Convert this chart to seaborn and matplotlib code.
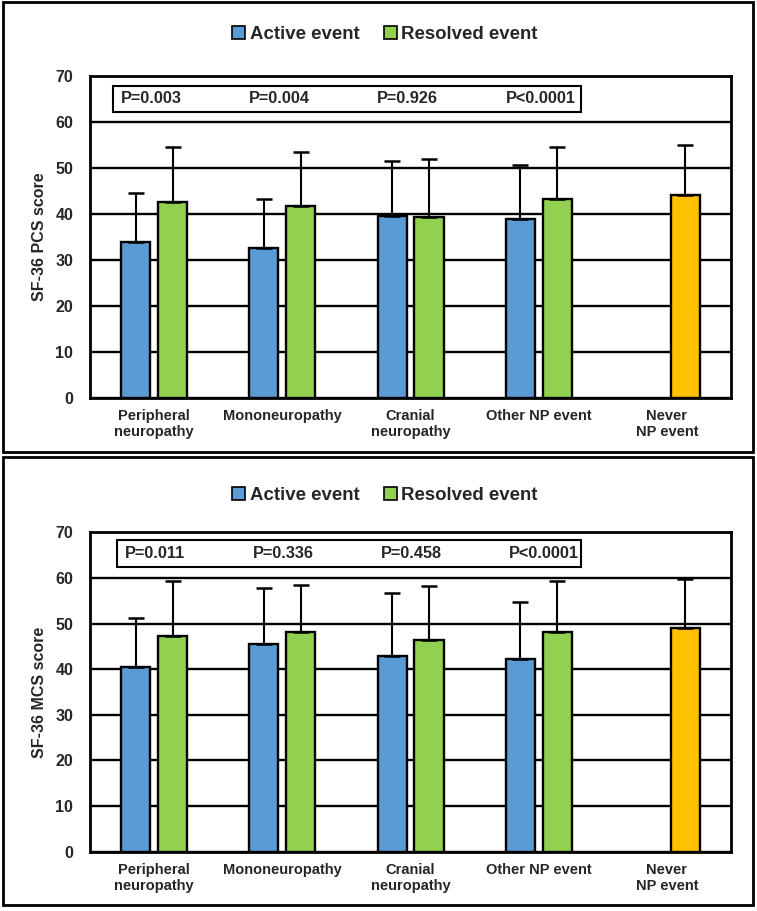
import matplotlib
matplotlib.use('Agg')
import matplotlib.pyplot as plt
from matplotlib.patches import Rectangle, Patch
import numpy as np
import pandas as pd
import seaborn as sns

categories = ['Peripheral\nneuropathy', 'Mononeuropathy', 'Cranial\nneuropathy',
              'Other NP event', 'Never\nNP event']
series = ['Active event', 'Resolved event']

# SF-36 PCS (the "Never" group sits in the resolved slot)
pcs_active = [33.8, 32.5, 39.6, 38.9]
pcs_active_sd = [10.6, 10.8, 11.8, 11.7]
pcs_resolved = [42.6, 41.7, 39.3, 43.2, 44.1]
pcs_resolved_sd = [11.8, 11.7, 12.6, 11.3, 10.9]
pcs_pvalues = ['P=0.003', 'P=0.004', 'P=0.926', 'P<0.0001']

# SF-36 MCS
mcs_active = [40.5, 45.5, 42.8, 42.2]
mcs_active_sd = [10.8, 12.2, 13.8, 12.5]
mcs_resolved = [47.2, 48.2, 46.4, 48.1, 49.0]
mcs_resolved_sd = [12.1, 10.2, 11.8, 11.2, 10.7]
mcs_pvalues = ['P=0.011', 'P=0.336', 'P=0.458', 'P<0.0001']

BLUE = '#5B9BD5'
GREEN = '#92D050'
YELLOW = '#FFC000'

sns.set_style('white')
plt.rcParams['font.family'] = ['Liberation Sans', 'DejaVu Sans']
plt.rcParams['font.weight'] = 'bold'


def draw_panel(ax, active, active_sd, resolved, resolved_sd, pvalues, ylabel,
               p_left, box):
    df = pd.DataFrame({
        'category': categories[:len(active)] + categories[:len(resolved)],
        'event': [series[0]] * len(active) + [series[1]] * len(resolved),
        'score': active + resolved,
        'sd': active_sd + resolved_sd,
    })
    sns.barplot(data=df, x='category', y='score', hue='event', order=categories,
                hue_order=series, palette=[BLUE, GREEN], saturation=1,
                width=0.575, gap=0.21, edgecolor='black', linewidth=1.7,
                errorbar=None, legend=False, ax=ax, zorder=2)

    # upper-only error bars, matched to each bar by its position
    for cont, ev in zip(ax.containers, series):
        sub = df[df['event'] == ev].set_index('category')
        xs, ys, sds = [], [], []
        for p in cont.patches:
            xc = p.get_x() + p.get_width() / 2
            cat = categories[int(round(xc))]
            if cat not in sub.index:
                continue
            xs.append(xc)
            ys.append(p.get_height())
            sds.append(sub.loc[cat, 'sd'])
            if cat == categories[-1]:
                p.set_facecolor(YELLOW)
        ax.errorbar(xs, ys, yerr=[np.zeros(len(sds)), sds], fmt='none',
                    ecolor='black', elinewidth=1.5, capsize=6, capthick=1.8,
                    zorder=3)

    ax.set_xlim(-0.5, 4.5)
    ax.set_ylim(0, 70)
    ax.set_yticks(range(0, 71, 10))
    ax.yaxis.grid(True, color='black', linewidth=1.7)
    ax.set_axisbelow(True)
    for s in ax.spines.values():
        s.set_visible(True)
        s.set_color('black')
        s.set_linewidth(2)
    ax.tick_params(axis='y', length=0, pad=12, labelsize=11.5)
    ax.tick_params(axis='x', length=0, pad=8, labelsize=10.5)
    for lab in ax.get_xticklabels() + ax.get_yticklabels():
        lab.set_fontweight('bold')
    ax.set_xlabel('')
    ax.set_ylabel(ylabel, fontsize=11.5, fontweight='bold', labelpad=6)

    # p-value box
    x0, x1, y0, y1 = box
    ax.add_patch(Rectangle((x0, y0), x1 - x0, y1 - y0, facecolor='white',
                           edgecolor='black', linewidth=1.5, zorder=4))
    for i, p in enumerate(pvalues):
        ax.text(i + p_left, (y0 + y1) / 2, p, ha='left', va='center',
                fontsize=11.7, fontweight='bold', zorder=5)


fig = plt.figure(figsize=(7.57, 9.11), dpi=100)
ax1 = fig.add_axes([0.1189, 0.5634, 0.8468, 0.3535])
ax2 = fig.add_axes([0.1189, 0.0651, 0.8468, 0.3506])

draw_panel(ax1, pcs_active, pcs_active_sd, pcs_resolved, pcs_resolved_sd,
           pcs_pvalues, 'SF-36 PCS score', -0.26, (-0.32, 3.33, 62.2, 67.8))
draw_panel(ax2, mcs_active, mcs_active_sd, mcs_resolved, mcs_resolved_sd,
           mcs_pvalues, 'SF-36 MCS score', -0.23, (-0.29, 3.33, 62.3, 68.3))

handles = [Patch(facecolor=BLUE, edgecolor='black', linewidth=1.2),
           Patch(facecolor=GREEN, edgecolor='black', linewidth=1.2)]
for ypos in (0.9616, 0.4566):
    fig.legend(handles, series, loc='center', bbox_to_anchor=(0.5086, ypos),
               ncol=2, frameon=False, handlelength=0.7,
               handleheight=0.7, handletextpad=0.25, columnspacing=1.3,
               prop={'weight': 'bold', 'size': 13.4})

# panel frames
for (y0, y1) in ((0.5038, 0.9978), (0.0066, 0.4984)):
    fig.add_artist(Rectangle((0.004, y0), 0.991, y1 - y0, transform=fig.transFigure,
                             fill=False, edgecolor='black', linewidth=2))

fig.savefig('out.png', dpi=100)
plt.close(fig)
